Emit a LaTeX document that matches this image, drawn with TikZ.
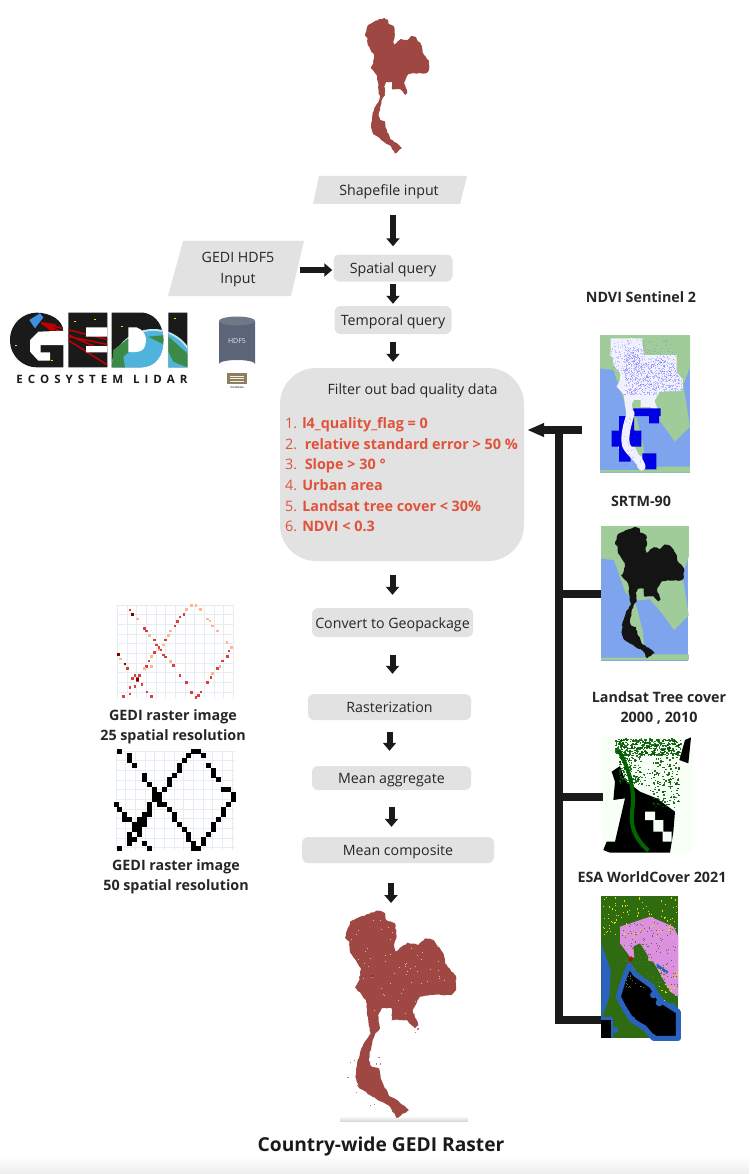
\documentclass[tikz,border=0pt]{standalone}
\usepackage{fontspec}
\setmainfont{Open Sans}
\usetikzlibrary{arrows.meta,calc,decorations.pathmorphing}
\definecolor{boxgray}{HTML}{E2E2E2}
\definecolor{mapred}{HTML}{9E4743}
\definecolor{warnred}{HTML}{E0533A}
\definecolor{inkblack}{HTML}{1A1A1A}
\definecolor{seablue}{HTML}{7EA4EE}
\definecolor{landgreen}{HTML}{9FCC98}
\definecolor{esagreen}{HTML}{2F6B10}
\definecolor{esapink}{HTML}{DD8FE0}
\definecolor{esablue}{HTML}{2A62C0}
\definecolor{gridgray}{HTML}{E6ECF3}
\definecolor{drumgray}{HTML}{5C6578}
\definecolor{drumtop}{HTML}{707888}
\definecolor{metatan}{HTML}{8A7F5F}
\definecolor{earthblue}{HTML}{4FB4DC}
\definecolor{earthgreen}{HTML}{3C8A48}
\newcommand\thaishape{(145,32)--(165,40)--(168,60)--(195,70)--(200,108)--(192,138)--(197,155)--(232,128)--(265,135)--(285,115)--(310,120)--(340,160)--(345,190)--(378,228)--(378,270)--(365,285)--(300,285)--(270,290)--(248,330)--(265,375)--(255,385)--(230,360)--(185,360)--(185,325)--(155,325)--(145,345)--(150,385)--(135,402)--(124,440)--(116,480)--(125,500)--(147,505)--(152,535)--(177,588)--(205,603)--(237,630)--(200,654)--(180,620)--(140,598)--(88,565)--(76,530)--(83,480)--(97,440)--(122,400)--(113,350)--(108,300)--(75,262)--(88,240)--(93,205)--(60,157)--(58,125)--(45,113)--(60,65)--(75,58)--(110,43)--cycle}
\newcommand\landshape{(0,0)--(270,0)--(270,95)--(250,150)--(270,275)--(225,320)--(185,265)--(150,225)--(110,230)--(75,205)--(40,105)--(0,100)--cycle (100,230)--(70,330)--(150,395)--(270,395)--(270,413)--(0,413)--(0,405)--(135,405)--(130,330)--(110,250)--cycle}
\begin{document}
\begin{tikzpicture}[x=1pt,y=-1pt,line join=round,font=\fontsize{14.2}{21}\selectfont,
	stepbox/.style={fill=boxgray,rounded corners=6pt,inner sep=0pt,text=black!85,text height=14.5pt,text depth=3pt},
	slantbox/.style={inner sep=0pt,text=black!85,align=center},
	fatarrow/.style={draw=inkblack,line width=6pt,-{Triangle[length=8pt,width=13pt]}},
	trunk/.style={draw=inkblack,line width=8pt,line join=miter},
	caption/.style={font=\fontsize{14.3}{20}\selectfont\bfseries,text=black!85,align=center,inner sep=0pt},
	rough/.style={decorate,decoration={random steps,segment length=2.5pt,amplitude=.6pt}},
	imgbox/.style={inner sep=0pt}]
	\useasboundingbox (0,0) rectangle (749,1174);
	\shade[top color=white,bottom color=black!7] (0,1156) rectangle (749,1174);

	% maps of the country
	\pgfmathsetseed{21}
	\begin{scope}[shift={(356.4,11)},xscale=0.192,yscale=0.218]
		\fill[mapred,rough] \thaishape;
	\end{scope}
	\shade[top color=white,bottom color=black!15] (340,1116) rectangle (468,1121);
	\begin{scope}[shift={(330,900)},scale=1/3]
		\fill[mapred,rough] \thaishape;
		\foreach \x/\y in {60/485,52/530,72/480,78/575,120/615,132/612,255/395,262/385,145/470,150/490,138/490,82/555}
			\fill[mapred!70!white] (\x,\y) rectangle ++(4,4);
		\fill[red!70!black] (128,228) circle (3);
		\clip \thaishape;
		\foreach \i in {1,...,70}
			\fill[white!60!mapred] ({60+rnd*300},{50+rnd*290}) rectangle ++(3,3);
	\end{scope}

	% flow boxes
	\fill[boxgray] (319,176)--(467,176)--(460,204)--(313,204)--cycle;
	\fill[boxgray] (183,241)--(304,241)--(291,296)--(168,296)--cycle;
	\node (shp) [slantbox,minimum width=140pt,minimum height=28pt,text height=14.5pt,text depth=3pt] at (389,190) {Shapefile input};
	\node (hdf) [slantbox,minimum width=124pt,minimum height=55pt] at (238,270) {GEDI HDF5\\Input};
	\node (spq) [stepbox,minimum width=119pt,minimum height=27pt] at (393,268) {Spatial query};
	\node (tpq) [stepbox,minimum width=117pt,minimum height=28pt] at (393,320) {Temporal query};
	\node (flt) [stepbox,rounded corners=36pt,minimum width=244pt,minimum height=193pt] at (402,464.5) {};
	\node (fltt) [inner sep=0pt,text=black!85] at (412.5,391) {Filter out bad quality data};
	\node (fltl) [anchor=north west,inner sep=0pt,align=left,text=warnred,
		font=\fontsize{14.4}{20.6}\selectfont] at (285,417.5) {1. \textbf{l4\_quality\_flag = 0}\\
		2.\ \ \textbf{relative standard error > 50 \%}\\
		3.\ \ \textbf{Slope > 30 °}\\
		4. \textbf{Urban area}\\
		5. \textbf{Landsat tree cover < 30\%}\\
		6. \textbf{NDVI < 0.3}};
	\node (cnv) [stepbox,minimum width=161pt,minimum height=29pt] at (392.5,622.5) {Convert to Geopackage};
	\node (rst) [stepbox,minimum width=163pt,minimum height=26pt] at (389.5,707) {Rasterization};
	\node (agg) [stepbox,minimum width=159pt,minimum height=24pt] at (391.5,778) {Mean aggregate};
	\node (cps) [stepbox,minimum width=192pt,minimum height=26pt] at (398,850) {Mean composite};
	\coordinate (botmap) at (391,903);

	\draw[fatarrow,shorten <=11pt,shorten >=8pt] (shp.south -| spq) -- (spq.north);
	\draw[fatarrow,shorten >=1pt] (hdf.east) -- (spq.west |- hdf.east);
	\draw[fatarrow,shorten <=2pt,shorten >=2pt] (spq.south) -- (tpq.north);
	\draw[fatarrow,shorten <=8pt,shorten >=6pt] (tpq.south) -- (tpq |- flt.north);
	\draw[fatarrow,shorten <=14pt,shorten >=13pt] (flt.south -| cnv) -- (cnv.north);
	\draw[fatarrow,shorten <=18pt,shorten >=20pt] (cnv.south) -- (cnv |- rst.north);
	\draw[fatarrow,shorten <=12pt,shorten >=15pt] (rst.south) -- (rst |- agg.north);
	\draw[fatarrow,shorten <=17pt,shorten >=10pt] (agg.south) -- (agg |- cps.north);
	\draw[fatarrow,shorten <=20pt] (cps.south -| botmap) -- (botmap);

	% data layers on the right
	\node (ndvc) [caption] at (641,297) {NDVI Sentinel 2};
	\node (srtc) [caption] at (641,501) {SRTM-90};
	\node (lndc) [caption] at (659,708) {Landsat Tree cover\\2000 , 2010};
	\node (esac) [caption] at (652,877) {ESA WorldCover 2021};

	\node (ndvimg) [imgbox,minimum width=90pt,minimum height=138pt] at (645,404) {};
	\node (srtimg) [imgbox,minimum width=87pt,minimum height=135pt] at (644.5,593.5) {};
	\node (lndimg) [imgbox,minimum width=89pt,minimum height=116pt] at (647.5,797) {};
	\node (esaimg) [imgbox,minimum width=78pt,minimum height=144pt] at (640,967) {};

	\begin{scope}[shift={(600,335)},scale=1/3]
		\fill[seablue] (0,0) rectangle (270,413);
		\fill[landgreen,even odd rule] \landshape;
		\fill[blue!6!white] (32,10) rectangle (127,60) (75,60) rectangle (230,115);
	\end{scope}
	\begin{scope}[shift={(600.1,331.2)},xscale=0.219,yscale=0.211]
		\fill[blue!6!white] \thaishape;
		\clip \thaishape;
		\foreach \i in {1,...,1100}
			\fill[blue!70!white,opacity=0.35] ({110+rnd*270},{80+rnd*220}) rectangle ++(4,4);
		\foreach \i in {1,...,120}
			\fill[blue!70!white,opacity=0.3] ({45+rnd*130},{30+rnd*180}) rectangle ++(4,4);
	\end{scope}
	\begin{scope}[shift={(600,335)},scale=1/3]
		\foreach \i in {1,...,120}
			\fill[blue!70!white,opacity=0.3] ({35+rnd*190},{12+rnd*100}) rectangle ++(3,3);
		\fill[blue!90!black] (100,220) rectangle (182,243) (147,243) rectangle (177,265) (57,243) rectangle (102,287) (35,287) rectangle (124,335) (57,335) rectangle (92,380) (127,355) rectangle (169,403);
		\draw[blue!6!white,line width=8pt,line cap=round] (92,235)..controls (82,270) and (72,300)..(78,330)..controls (88,355) and (115,365)..(125,395);
		\foreach \i in {1,...,40}
			\fill[blue!70!white,opacity=0.3] ({72+rnd*50},{240+rnd*150}) rectangle ++(3,3);
	\end{scope}

	\begin{scope}[shift={(601,526)},scale=0.325]
		\fill[seablue] (0,0) rectangle (268,415);
		\fill[landgreen,even odd rule] \landshape;
	\end{scope}
	\begin{scope}[shift={(605.7,520.2)},xscale=0.207,yscale=0.211]
		\fill[black!92,rough] \thaishape;
	\end{scope}

	\begin{scope}[shift={(590,730)},scale=1/3]
		\fill[green!3!white] (40,20) rectangle (305,370);
		\fill[black] (65,125)--(90,108)--(105,150)--(150,185)--(200,205)--(255,245)--(250,305)--(245,338)--(240,368)--(60,368)--(40,360)--(50,335)--(75,335)--(105,205)--(70,210)--(75,155)--cycle;
		\fill[green!3!white] (165,245) rectangle (195,270) (190,270) rectangle (220,305) (218,305) rectangle (245,335);
		\draw[green!40!black,line width=4pt] (85,60)..controls (110,100) and (135,170)..(128,230)..controls (118,290) and (135,325)..(175,362);
		\foreach \i in {1,...,420}
			\fill[green!35!black,opacity=0.85] ({75+rnd*195},{25+rnd*50}) rectangle ++(5,4);
		\foreach \i in {1,...,140}
			\fill[green!35!black,opacity=0.85] ({85+rnd*65},{70+rnd*90}) rectangle ++(5,4);
		\foreach \i in {1,...,140}
			\fill[green!35!black,opacity=0.85] ({185+rnd*80},{80+rnd*150}) rectangle ++(5,4);
		\foreach \i in {1,...,30}
			\fill[green!35!black,opacity=0.85] ({140+rnd*60},{110+rnd*70}) rectangle ++(4,3);
		\fill[black] (268,90)--(285,30)--(303,22)--(295,100)--cycle;
	\end{scope}

	\begin{scope}[shift={(590,730)},scale=1/3]
		\fill[esagreen] (34,497) rectangle (265,925);
		\fill[esapink] (90,590)--(120,580)--(180,560)--(250,590)--(265,620)--(265,800)--(240,785)--(190,695)--(120,680)--(90,640)--cycle;
		\fill[esagreen] (130,650)--(150,640)--(175,680)--(170,720)--(135,700)--cycle;
		\fill[esablue] (200,700)--(235,725)--(230,732)--(200,712)--cycle;
		\fill[esablue] (34,640)--(62,720)--(58,800)--(38,860)--(34,860)--cycle;
		\draw[esablue,line width=5pt,fill=black] (118,705)--(135,732)--(185,768)--(210,810)--(265,845)--(265,925)--(190,925)--(165,895)--(125,870)--(100,830)--(85,800)--(100,750)--cycle;
		\fill[esablue] (208,818) circle (11) (190,795) circle (10) (127,868) circle (9) (160,892) circle (9) (104,838) circle (8) (190,920) circle (8) (248,828) circle (9) (60,868) circle (9) (76,900) circle (9);
		\fill[esablue] (34,862) rectangle (70,925);
		\fill[black] (34,870) rectangle (62,925);
		\fill[red!80!black] (122,688) circle (6);
		\foreach \i in {1,...,90}
			\fill[yellow!80!olive] ({36+rnd*225},{500+rnd*120}) rectangle ++(2,4);
		\foreach \i in {1,...,25}
			\fill[yellow!80!olive] ({205+rnd*58},{700+rnd*110}) rectangle ++(2,4);
		\foreach \i in {1,...,170}
			\fill[esagreen!80!esapink] ({95+rnd*165},{575+rnd*200}) rectangle ++(3,3);
	\end{scope}

	\coordinate (junc) at (559,430);
	\coordinate (esaend) at (601,1020);
	\draw[trunk] (junc) -- (junc |- esaend) -- (esaend);
	\draw[trunk] (junc |- srtimg) -- (srtimg.west);
	\draw[trunk] (junc |- lndimg) -- (lndimg.west);
	\draw[draw=inkblack,line width=8pt,shorten <=18pt,shorten >=3pt,-{Triangle[length=17pt,width=13pt]}] (ndvimg.west |- junc) -- (flt.east |- junc);

	% rasters on the left
	\begin{scope}[shift={(100,595)},scale=1/3]
		\foreach \x in {52,81,...,400}
			\draw[gridgray,line width=.5pt] (\x,30) -- (\x,312);
		\foreach \y in {30,59,...,312}
			\draw[gridgray,line width=.5pt] (52,\y) -- (400,\y);
		\foreach \x/\y in {90/45,133/100,140/108,163/135,170/150,177/157,183/165,190/180,197/186,220/212,240/242,260/262,275/292,288/308,295/302,303/291,323/262,333/248,352/221,367/198,382/185,387/168,252/58,240/66,232/80,225/93,197/135,163/172,147/198,140/215,118/242,105/242,112/250,112/258,126/268,105/275,90/277,90/297,70/305,141/291,155/305,97/250,83/221}
			\fill[red!80!black,opacity=0.75] (\x-4,\y-4) rectangle ++(8,8);
		\foreach \x/\y in {112/72,148/122,212/200,338/235,360/215,395/157,381/143,352/108,338/93,330/78,323/72,302/44,288/32,275/32,260/44,212/108,205/122,190/150,177/165,155/185,155/215,133/221,62/192}
			\fill[red!30!orange!45!white] (\x-4,\y-4) rectangle ++(8,8);
		\foreach \x/\y in {98/58,75/207,55/178,112/254}
			\fill[red!50!black] (\x-4,\y-4) rectangle ++(8,8);
		% second raster
		\foreach \x in {48,77,...,404}
			\draw[gridgray,line width=.5pt] (\x,468) -- (\x,766);
		\foreach \y in {468,497,...,766}
			\draw[gridgray,line width=.5pt] (48,\y) -- (404,\y);
		\foreach \x/\y in {58/468,88/480,88/495,103/510,133/540,133/553,148/568,163/583,163/598,177/598,177/612,163/612,177/628,192/628,148/628,148/643,133/658,148/658,118/672,133/672,118/687,103/687,133/687,103/702,118/702,88/717,118/717,103/732,88/732,88/745,133/745,148/760,58/760,73/672,73/658,58/643,48/628,88/672,207/643,222/658,222/672,237/687,252/702,266/717,266/732,281/745,281/760,296/760,311/745,311/732,326/717,340/702,340/687,355/672,370/658,370/643,385/628,400/613,400/598,385/583,370/583,355/553,340/540,340/525,326/510,311/480,296/468,281/468,266/480,252/495,237/510,237/525,222/540,207/553,207/568,192/583}
			\fill[black] (\x-7.5,\y-7.5) rectangle ++(15,15);
	\end{scope}
	\node (rs25) [caption] at (173,727) {GEDI raster image\\25 spatial resolution};
	\node (rs50) [caption] at (176,877) {GEDI raster image\\50 spatial resolution};

	% gedi logo
	\begin{scope}[shift={(0,290)},scale=1/3]
		\begin{scope}
			\clip (30,150)..controls (30,100) and (70,68)..(110,68)..controls (150,68) and (190,90)..(190,125)--(190,232)--(110,232)..controls (70,232) and (30,200)..(30,150)--cycle
				(205,68) rectangle (322,232)
				(335,68)--(430,68)..controls (475,75) and (490,115)..(490,150)..controls (490,195) and (470,232)..(420,232)--(335,232)--cycle
				(505,68) rectangle (562,232);
			\fill[inkblack] (0,60) rectangle (570,240);
			\fill[earthblue!35!white] (460,245) circle (128);
			\fill[earthblue] (460,245) circle (122);
			\fill[earthgreen] (335,232)--(340,180)--(385,145)--(400,175)--(370,200)--(375,232)--cycle (445,140)--(500,135)--(562,190)--(562,232)--(520,215)--(495,165)--cycle;
			\draw[red!75!black,line width=1.6pt] (125,100)--(330,230) (125,100)--(330,190) (125,100)--(330,150) (160,130)--(330,165);
			\foreach \x/\y in {285/88,225/94,48/165,155/210,365/108,525/85}
				\fill[yellow!80!orange] (\x-3,\y-1.5) rectangle ++(6,3);
		\end{scope}
		\fill[white] (195,122)--(115,125)--(90,150)--(90,185)--(115,212)--(150,212)--(150,187)--(122,187)--(122,165)--(195,165)--cycle;
		\fill[white] (258,112) rectangle (322,140) (258,168) rectangle (322,187);
		\fill[white] (385,112)--(410,112)..controls (430,120) and (438,135)..(438,150)..controls (438,170) and (430,185)..(410,186)--(385,186)--cycle;
		\fill[earthblue!80!blue] (88,90)--(120,70)--(130,82)--(105,115)--cycle;
		\fill[red!75!black] (120,95)--(170,103)--(150,122)--cycle;
	\end{scope}
	\node (gedw) [inner sep=0pt,font=\fontsize{11.5}{12}\selectfont\bfseries,text=inkblack] at (102,379) {E\hspace{5pt}C\hspace{5pt}O\hspace{5pt}S\hspace{5pt}Y\hspace{5pt}S\hspace{5pt}T\hspace{5pt}E\hspace{5pt}M\hspace{10pt}L\hspace{5pt}I\hspace{5pt}D\hspace{5pt}A\hspace{5pt}R};

	% hdf5 drum
	\fill[drumgray] (219,321)--(219,364) arc (180:360:18 and 4)--(255,321)--cycle;
	\fill[drumtop] (237,321) ellipse (18 and 4.5);
	\node (drum) [inner sep=0pt,text=white!90!black,font=\fontsize{7}{8}\selectfont] at (237,341) {HDF5};
	\fill[metatan] (227,373) rectangle (247,384);
	\foreach \y in {376,378.5,381}
		\draw[white!85!brown,line width=0.7pt] (230,\y) -- (244,\y);
	\node (meta) [inner sep=0pt,font=\fontsize{3}{3}\selectfont] at (237,387) {metadata};

	\node (titl) [inner sep=0pt,font=\fontsize{19.2}{22}\selectfont\bfseries,text=inkblack] at (381,1146) {Country-wide GEDI Raster};
\end{tikzpicture}
\end{document}
